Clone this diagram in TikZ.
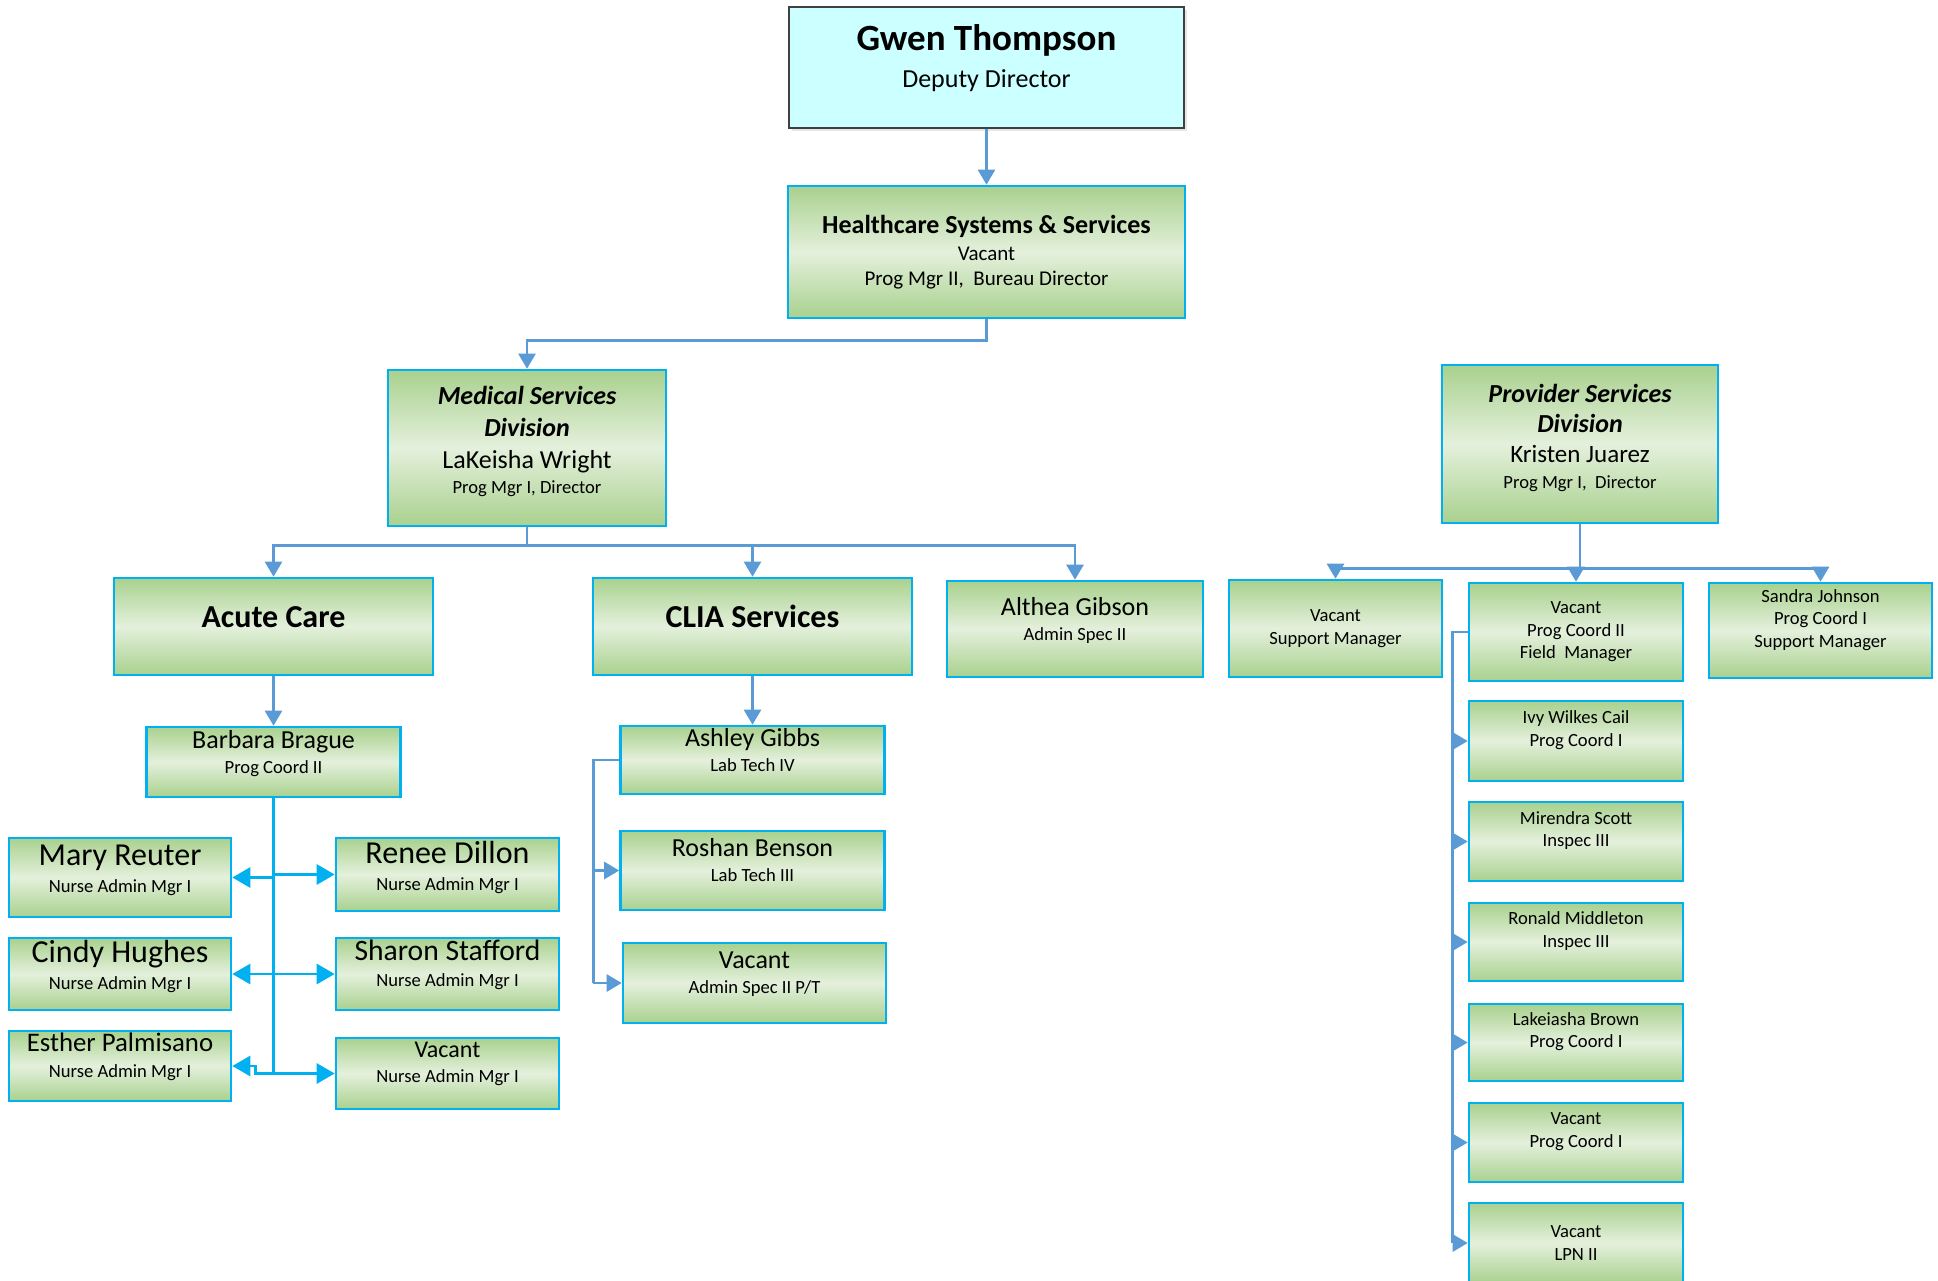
\documentclass[tikz,border=0pt]{standalone}
\usepackage{fontspec}
\setmainfont{Carlito}
\usetikzlibrary{arrows.meta,shadows}

\definecolor{boxgreen}{RGB}{169,209,142}
\definecolor{boxlight}{RGB}{228,240,220}
\definecolor{boxcyan}{RGB}{0,176,240}
\definecolor{linkblue}{RGB}{91,155,213}
\definecolor{topcyan}{RGB}{204,255,255}
\definecolor{topedge}{RGB}{64,64,64}

% extra empty line that lifts the text a little inside its box
\newcommand{\lift}[1][-2pt]{\\[#1]~}

\tikzset{
  unit/.style={draw=boxcyan, line width=1.3pt, top color=boxgreen, bottom color=boxgreen, middle color=boxlight,
    align=center, inner xsep=2pt, inner ysep=0pt, font=\fontsize{9.3}{12.5}\selectfont},
  field/.style={unit, font=\fontsize{9.3}{11.3}\selectfont},
  link/.style={draw=linkblue, line width=1.3pt},
  nurselink/.style={draw=boxcyan, line width=1.4pt},
  arr/.style={-{Triangle[width=8.5pt,length=7.5pt]}},
  bigarr/.style={-{Triangle[width=10pt,length=9pt]}}
}

\begin{document}
\begin{tikzpicture}[x=0.5pt, y=-0.5pt]
        \useasboundingbox (0,0) rectangle (1938,1280);

        % Top of the tree
        \node[draw=topedge, line width=0.6pt, fill=topcyan, align=center, minimum width=197.5pt, minimum height=60.5pt,
          font=\fontsize{13}{15.6}\selectfont, drop shadow={opacity=0.2, shadow xshift=1.5pt, shadow yshift=-1.5pt}]
          (gwen) at (986.5,67.5) {{\fontsize{18.5}{22}\selectfont\bfseries Gwen Thompson}\\[3pt]Deputy Director\lift[-4pt]};
        \node[unit, minimum width=198.5pt, minimum height=66pt, font=\fontsize{10.5}{12.5}\selectfont] (hss) at (986.5,252)
          {{\fontsize{13}{15}\selectfont\bfseries Healthcare Systems \& Services}\\[1pt]Vacant\\Prog Mgr II,\ \ Bureau Director};

        % Divisions
        \node[unit, minimum width=139pt, minimum height=78pt] (med) at (527,448)
          {{\fontsize{13}{15}\selectfont\bfseries\itshape Medical Services}\\[3.5pt]{\fontsize{13}{15}\selectfont\bfseries\itshape Division}\\[3.5pt]{\fontsize{13}{15}\selectfont LaKeisha Wright}\\Prog Mgr I, Director\lift[-4pt]};
        \node[unit, minimum width=138pt, minimum height=79pt] (prov) at (1580,444)
          {{\fontsize{13}{15}\selectfont\bfseries\itshape Provider Services}\\[2.5pt]{\fontsize{13}{15}\selectfont\bfseries\itshape Division}\\[2.5pt]{\fontsize{12.5}{15}\selectfont Kristen Juarez}\\[0.5pt]Prog Mgr I,\ \ Director\lift[-5pt]};

        % Medical Services
        \node[unit, minimum width=159.5pt, minimum height=48.5pt] (acute) at (273.5,626.5) {{\fontsize{16}{19}\selectfont\bfseries Acute Care}\lift[-2.5pt]};
        \node[unit, minimum width=159.5pt, minimum height=48.5pt] (clia) at (752.5,626.5) {{\fontsize{16}{19}\selectfont\bfseries CLIA Services}\lift[-2.5pt]};
        \node[unit, minimum width=128pt, minimum height=48pt] (alth) at (1075,629) {{\fontsize{13}{15}\selectfont Althea Gibson}\\Admin Spec II\lift};

        \node[unit, minimum width=127pt, minimum height=35pt] (bb) at (273.5,762) {{\fontsize{13}{15}\selectfont Barbara Brague}\\Prog Coord II\lift};
        \node[unit, minimum width=111pt, minimum height=39.5pt] (mary) at (120,877.5) {{\fontsize{16}{19}\selectfont Mary Reuter}\\[1pt]Nurse Admin Mgr I\lift[-3.5pt]};
        \node[unit, minimum width=111.5pt, minimum height=36.5pt] (ren) at (447.5,874.5) {{\fontsize{16}{19}\selectfont Renee Dillon}\\[1pt]Nurse Admin Mgr I\lift[-4pt]};
        \node[unit, minimum width=111pt, minimum height=36pt] (cin) at (120,974) {{\fontsize{16}{19}\selectfont Cindy Hughes}\\[1pt]Nurse Admin Mgr I\lift[-3.5pt]};
        \node[unit, minimum width=111.5pt, minimum height=36pt] (sha) at (447.5,974) {{\fontsize{14.8}{18}\selectfont Sharon Stafford}\\[0.5pt]Nurse Admin Mgr I\lift[-2pt]};
        \node[unit, minimum width=111pt, minimum height=35pt] (est) at (120,1066) {{\fontsize{13.4}{16}\selectfont Esther Palmisano}\\[0.5pt]Nurse Admin Mgr I\lift[-2pt]};
        \node[unit, minimum width=111.5pt, minimum height=35.5pt] (vna) at (447.5,1073.5) {{\fontsize{12}{14}\selectfont Vacant}\\Nurse Admin Mgr I\lift[-1pt]};

        \node[unit, minimum width=132pt, minimum height=34pt] (ash) at (752.5,760) {{\fontsize{13}{15}\selectfont Ashley Gibbs}\\Lab Tech IV\lift};
        \node[unit, minimum width=132pt, minimum height=39.5pt] (rob) at (752.5,870.5) {{\fontsize{13}{15}\selectfont Roshan Benson}\\Lab Tech III\lift};
        \node[unit, minimum width=131.5pt, minimum height=40pt] (vas) at (754.5,983) {{\fontsize{13}{15}\selectfont Vacant}\\Admin Spec II P/T\lift};

        % Provider Services
        \node[field, minimum width=106.5pt, minimum height=48.5pt] (vsm) at (1335.5,628.5) {Vacant\\Support Manager};
        \node[field, minimum width=107pt, minimum height=49pt] (pc2) at (1576,632) {Vacant\\Prog Coord II\\Field\ \ Manager};
        \node[field, minimum width=111.5pt, minimum height=47.5pt] (sand) at (1820.5,630.5) {Sandra Johnson\\Prog Coord I\\Support Manager\lift[1pt]};
        \node[field, minimum width=107pt, minimum height=40pt] (ivy) at (1576,741) {Ivy Wilkes Cail\\Prog Coord I\lift[1pt]};
        \node[field, minimum width=107pt, minimum height=39.5pt] (mir) at (1576,841.5) {Mirendra Scott\\Inspec III\lift[1pt]};
        \node[field, minimum width=107pt, minimum height=39pt] (ron) at (1576,942) {Ronald Middleton\\Inspec III\lift[1pt]};
        \node[field, minimum width=107pt, minimum height=38.5pt] (lak) at (1576,1042.5) {Lakeiasha Brown\\Prog Coord I\lift[1pt]};
        \node[field, minimum width=107pt, minimum height=39.5pt] (vpc) at (1576,1142.5) {Vacant\\Prog Coord I\lift[1pt]};
        \node[field, minimum width=107pt, minimum height=40pt] (lpn) at (1576,1243) {Vacant\\LPN II};

        % Connectors
        \draw[link,arr] (gwen) -- (hss);
        \draw[link,arr] (hss.south) -- ++(0,21) -| (med.north);

        \draw[link] (med.south) -- ++(0,18) coordinate (mbus);
        \foreach \n in {acute,clia,alth}
          \draw[link,arr] (mbus) -| (\n.north);
        \draw[link,arr] (acute) -- (bb);
        \draw[link,arr] (clia) -- (ash);

        \draw[link] (ash.west) -- ++(-26,0) coordinate (cbar) -- (cbar |- vas.west);
        \foreach \n in {rob,vas}
          \draw[link,arr] (cbar |- \n.west) -- (\n.west);

        \draw[nurselink] (bb.south) -- (bb.south |- vna.west) coordinate (nbot);
        \foreach \n in {mary,cin}
          \draw[nurselink,bigarr] (bb.south |- \n.east) -- (\n.east);
        \foreach \n in {ren,sha,vna}
          \draw[nurselink,bigarr] (bb.south |- \n.west) -- (\n.west);
        \draw[nurselink,bigarr] (nbot) -- ++(-18,0) |- (est.east);

        \draw[link] (prov.south) -- ++(0,44) coordinate (pbus);
        \foreach \n in {vsm,pc2,sand}
          \draw[link,arr] (pbus) -| (\n.north);

        \draw[link] (pc2.west) -- ++(-15,0) coordinate (fbar) -- (fbar |- lpn.west);
        \foreach \n in {ivy,mir,ron,lak,vpc,lpn}
          \draw[link,arr] (fbar |- \n.west) -- (\n.west);
\end{tikzpicture}
\end{document}
